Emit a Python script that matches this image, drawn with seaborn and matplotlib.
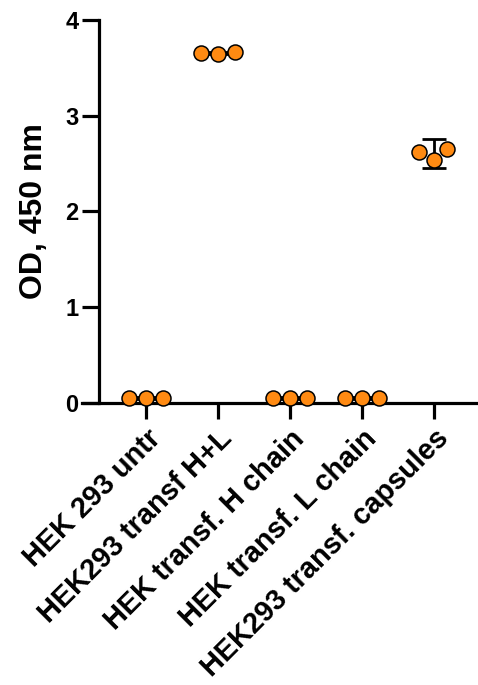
import numpy as np
import pandas as pd
import matplotlib
matplotlib.use("Agg")
import matplotlib.pyplot as plt
import seaborn as sns

# groups and replicate readings (OD at 450 nm)
groups = ["HEK 293 untr", "HEK293 transf H+L", "HEK transf. H chain",
          "HEK transf. L chain", "HEK293 transf. capsules"]
rep1 = [0.05, 3.645, 0.05, 0.05, 2.54]
rep2 = [0.05, 3.666, 0.05, 0.05, 2.65]
rep3 = [0.05, 3.656, 0.05, 0.05, 2.62]
# SD reported per group
sd_vals = [0.01, 0.01, 0.01, 0.01, 0.15]

df = pd.DataFrame({
    "group": groups * 3,
    "od": rep1 + rep2 + rep3,
})

sns.set_style("white")
plt.rcParams["font.family"] = ["Liberation Sans", "DejaVu Sans"]
plt.rcParams["font.weight"] = "bold"
plt.rcParams["text.color"] = "black"
plt.rcParams["axes.labelcolor"] = "black"
plt.rcParams["xtick.color"] = "black"
plt.rcParams["ytick.color"] = "black"

fig = plt.figure(figsize=(4.78, 6.85), dpi=100)
ax = fig.add_axes([0.1715, 0.4117, 0.8285, 0.5591])

means = df.groupby("group", sort=False)["od"].mean().reindex(groups).values
ax.errorbar(np.arange(len(groups)), means, yerr=sd_vals, fmt="none",
            ecolor="black", elinewidth=2, capsize=8.5, capthick=2,
            zorder=2, clip_on=False)

sns.swarmplot(data=df, x="group", y="od", order=groups, ax=ax,
              color="#FF8A12", edgecolor="black", linewidth=1.1,
              size=10.8, zorder=3, clip_on=False)

ax.set_ylim(0, 4)
ax.set_xlim(-0.89, 4.61)
ax.set_yticks([0, 1, 2, 3, 4])
for sp in ["top", "right"]:
    ax.spines[sp].set_visible(False)
ax.spines["left"].set_position(("data", -0.65))
for sp in ["left", "bottom"]:
    ax.spines[sp].set_linewidth(2.3)
    ax.spines[sp].set_color("black")

ax.tick_params(axis="y", length=12, width=2.3, labelsize=17, pad=3,
               left=True, colors="black")
ax.tick_params(axis="x", length=11.5, width=2.3, labelsize=20.8, pad=4,
               bottom=True, colors="black")
ax.set_xticks(range(len(groups)))
ax.set_xticklabels(groups, rotation=45, ha="right", rotation_mode="anchor",
                   fontweight="bold")
for lab in ax.get_yticklabels():
    lab.set_fontweight("bold")

ax.set_xlabel("")
ax.set_ylabel("OD, 450 nm", fontsize=23, fontweight="bold", labelpad=12,
              color="black")

fig.savefig("out.png", dpi=100)
